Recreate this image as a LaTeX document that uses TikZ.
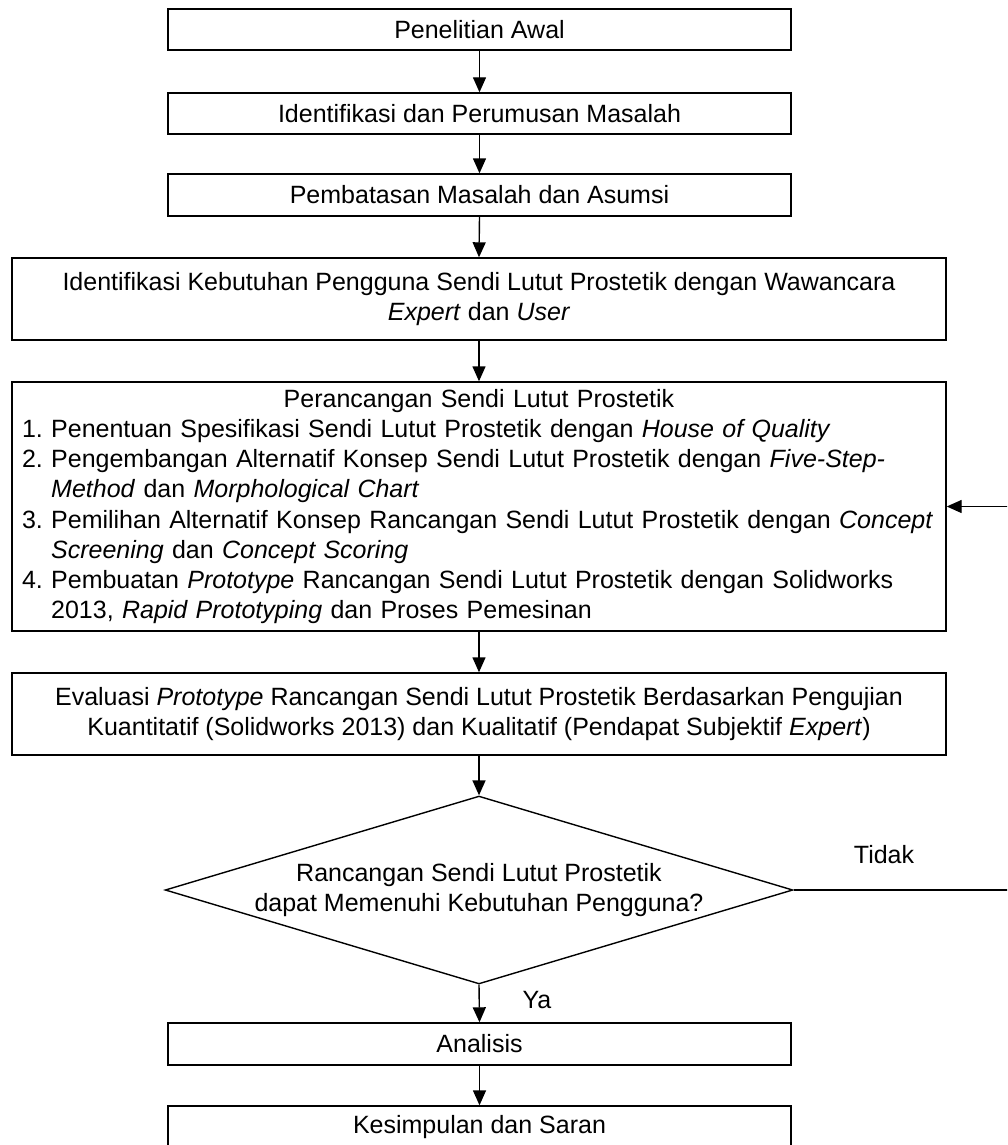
\documentclass[tikz,border=0pt]{standalone}
\usepackage{fontspec}
\setmainfont{Liberation Sans}
\usetikzlibrary{shapes.geometric,arrows.meta}
\newcommand{\lline}[1]{\mbox{#1}}
\begin{document}
\begin{tikzpicture}[x=1pt,y=-1pt,
  font=\fontsize{25}{30.2}\selectfont,
  box/.style={draw,line width=1.4pt,inner sep=0pt,align=center},
  arr/.style={line width=1.4pt,-{Triangle[length=15pt,width=13pt]}},
  lbl/.style={inner sep=0pt}
]
\useasboundingbox (0,0) rectangle (1007,1145);
\clip (0,0) rectangle (1007,1145);

\node[box,minimum width=623pt,minimum height=41pt] (b1) at (479.5,29.5) {Penelitian Awal};
\node[box,minimum width=623pt,minimum height=41pt] (b2) at (479.5,113.5) {Identifikasi dan Perumusan Masalah};
\node[box,minimum width=623pt,minimum height=42pt] (b3) at (479.5,195) {Pembatasan Masalah dan Asumsi};
\node[box,minimum width=934pt,minimum height=82pt] (b4) at (479,299) {Identifikasi Kebutuhan Pengguna Sendi Lutut Prostetik dengan Wawancara\\\textit{Expert} dan \textit{User}};
\node[box,align=left,text width=914pt,minimum width=934pt,minimum height=249pt] (b5) at (479,506.5) {%
\makebox[914pt]{Perancangan Sendi Lutut Prostetik}\\
\lline{1.\ Penentuan Spesifikasi Sendi Lutut Prostetik dengan \textit{House of Quality}}\\
\lline{2.\ Pengembangan Alternatif Konsep Sendi Lutut Prostetik dengan \textit{Five-Step-}}\\
\lline{\phantom{2.\ }\textit{Method} dan \textit{Morphological Chart}}\\
\lline{3.\ Pemilihan Alternatif Konsep Rancangan Sendi Lutut Prostetik dengan \textit{Concept}}\\
\lline{\phantom{3.\ }\textit{Screening} dan \textit{Concept Scoring}}\\
\lline{4.\ Pembuatan \textit{Prototype} Rancangan Sendi Lutut Prostetik dengan Solidworks}\\
\lline{\phantom{4.\ }2013, \textit{Rapid Prototyping} dan Proses Pemesinan}};
\node[box,minimum width=934pt,minimum height=82pt] (b6) at (479,714) {Evaluasi \textit{Prototype} Rancangan Sendi Lutut Prostetik Berdasarkan Pengujian\\Kuantitatif (Solidworks 2013) dan Kualitatif (Pendapat Subjektif \textit{Expert})};
\node[box,diamond,aspect=3.34,minimum width=621pt,minimum height=186pt] (d) at (479,890) {Rancangan Sendi Lutut Prostetik\\dapat Memenuhi Kebutuhan Pengguna?};
\node[box,minimum width=623pt,minimum height=42pt] (b7) at (479.5,1044) {Analisis};
\node[box,minimum width=623pt,minimum height=42pt] (b8) at (479.5,1127) {Kesimpulan dan Saran};

\node[lbl] (tidak) at (884,855) {Tidak};
\node[lbl] (ya) at (537,1000) {Ya};

\draw[arr] (b1.south) -- (b2.north);
\draw[arr] (b2.south) -- (b3.north);
\draw[arr] (b3.south) -- (b4.north);
\draw[arr] (b4.south) -- (b5.north);
\draw[arr] (b5.south) -- (b6.north);
\draw[arr] (b6.south) -- (d.north);
\draw[arr] (d.south) -- (b7.north);
\draw[arr] (b7.south) -- (b8.north);
\coordinate (fr) at (1020,890);
\draw[arr] (d.east) -- (fr) |- (b5.east);
\end{tikzpicture}
\end{document}
